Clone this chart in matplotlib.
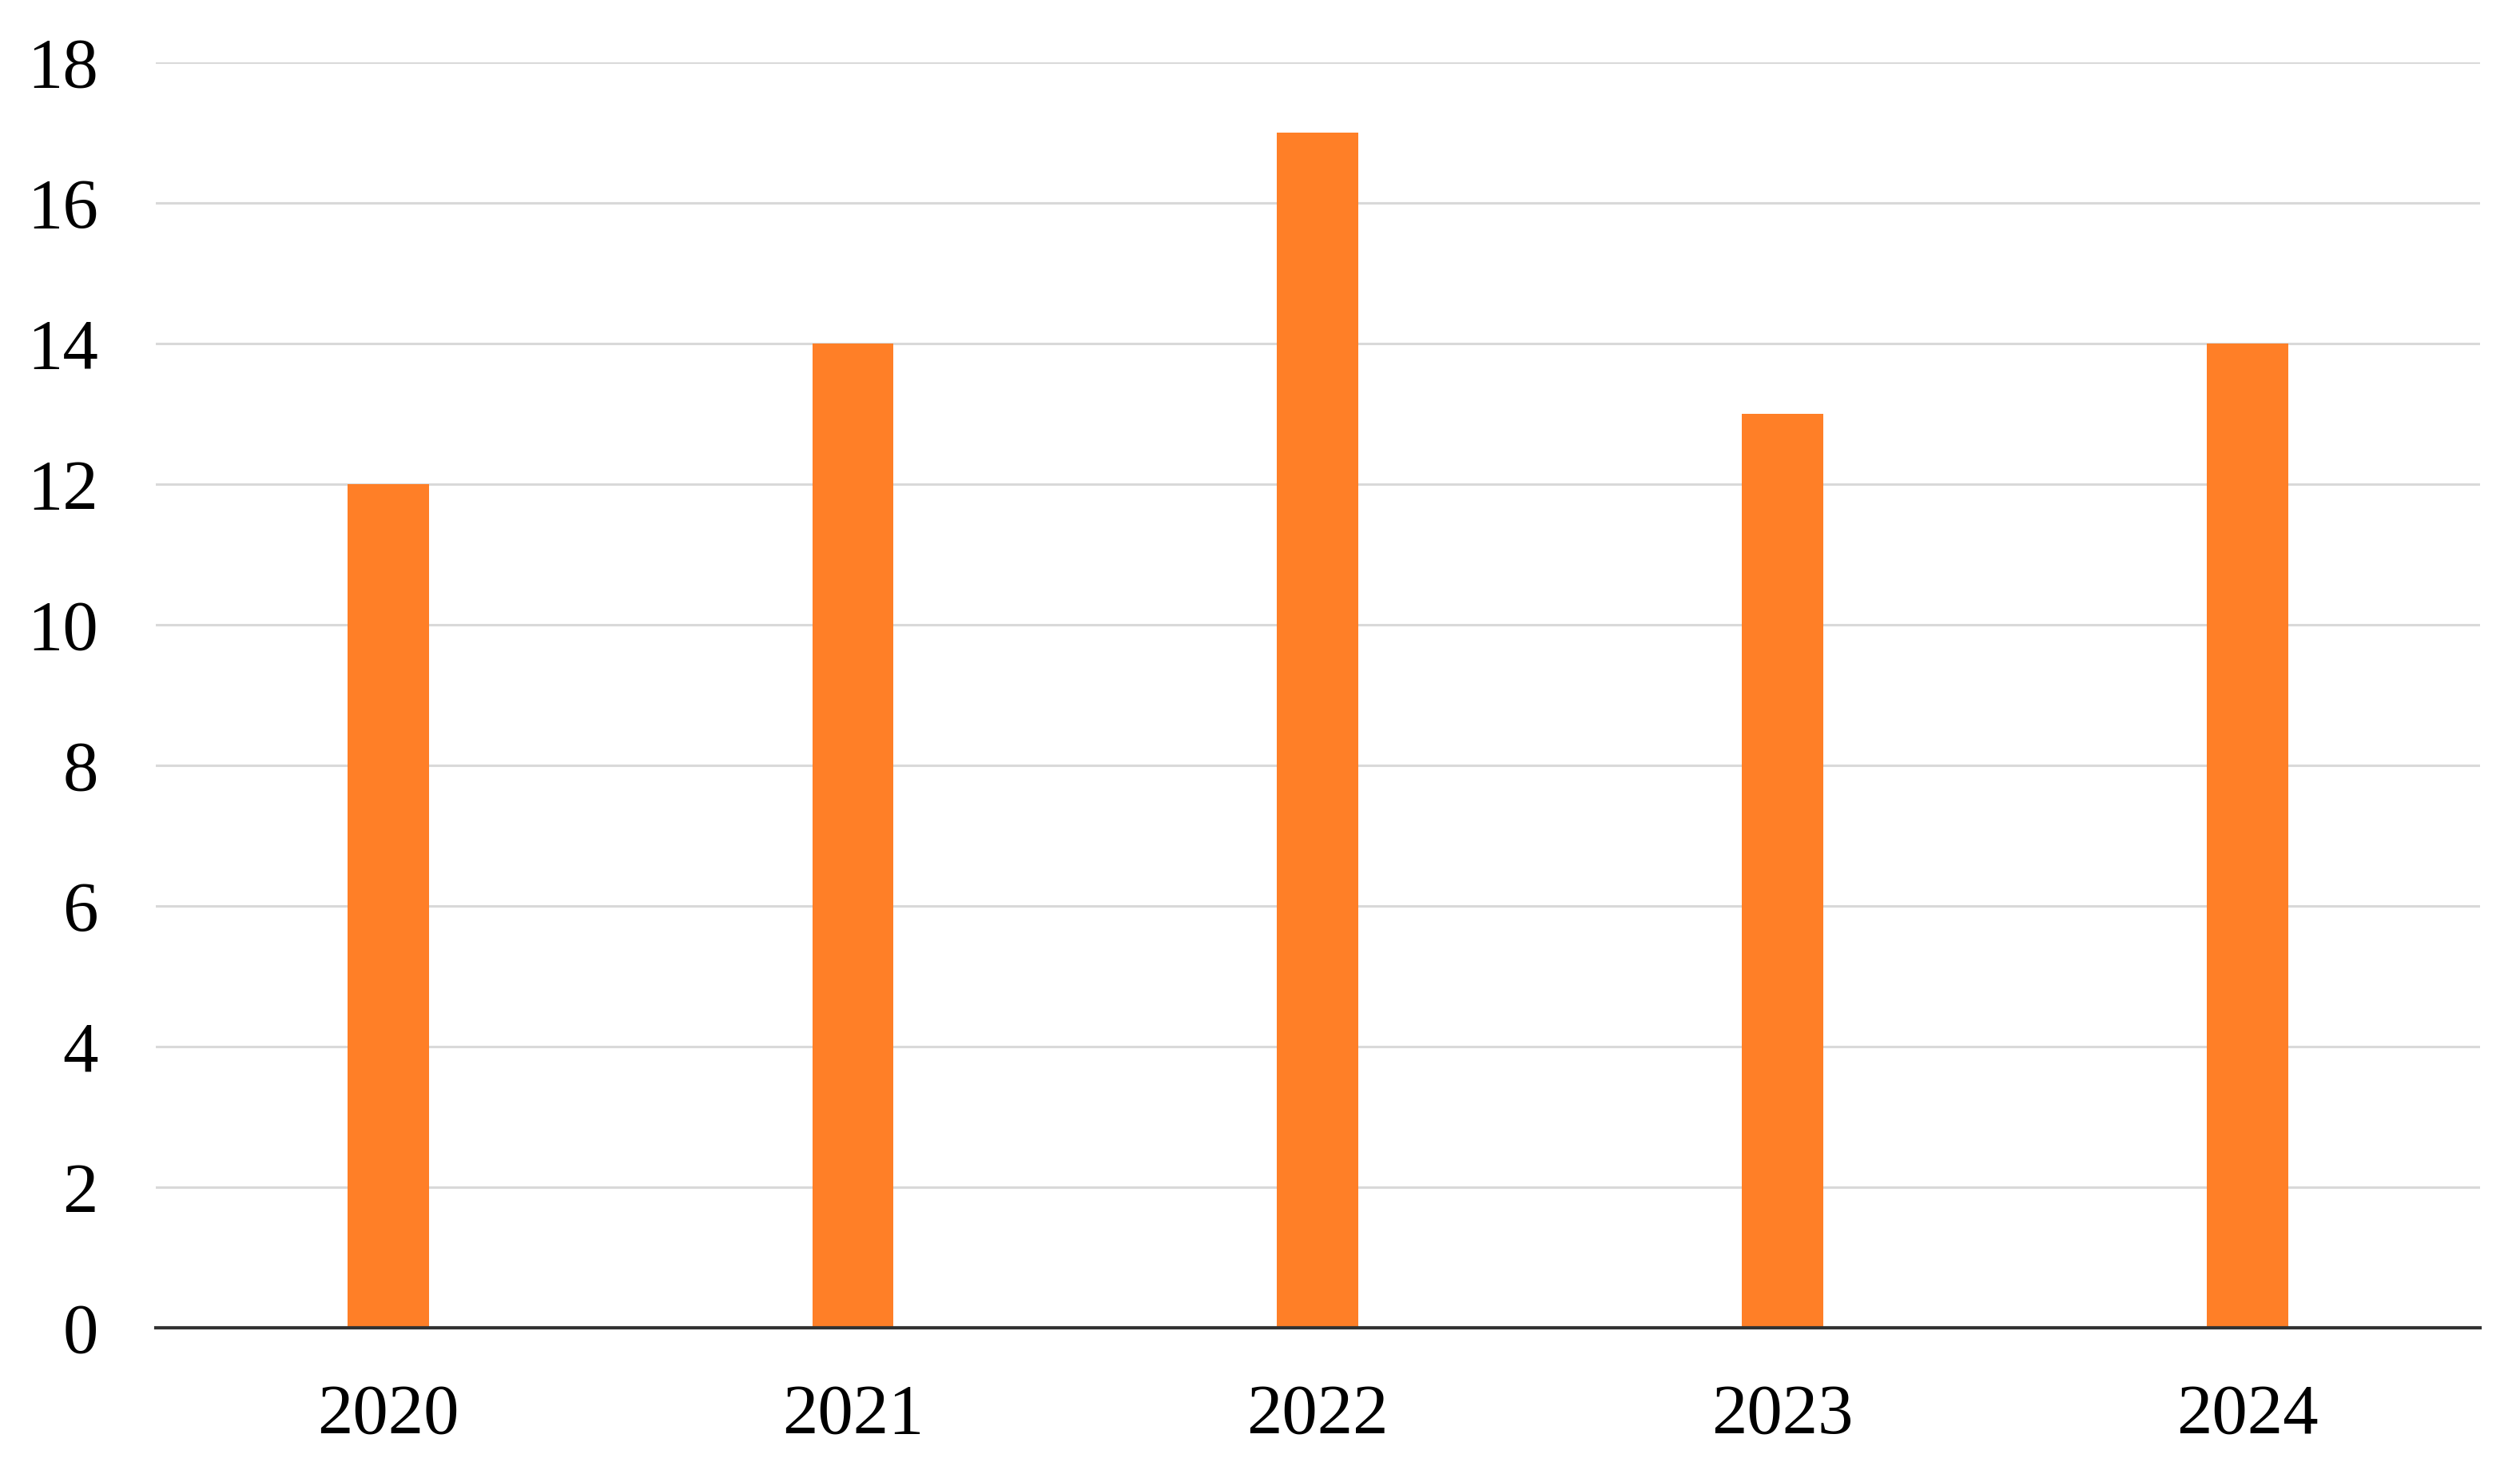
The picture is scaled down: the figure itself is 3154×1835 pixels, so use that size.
import matplotlib.pyplot as plt

# Data
years = ['2020', '2021', '2022', '2023', '2024']
counts = [12, 14, 17, 13, 14]
yticks = [0, 2, 4, 6, 8, 10, 12, 14, 16, 18]

plt.rcParams['font.family'] = ['Liberation Serif', 'DejaVu Serif']

fig = plt.figure(figsize=(31.54, 18.35), dpi=100)
ax = fig.add_axes([0.0618, 0.0943, 0.9222, 0.8632])

x = range(len(years))
ax.bar(x, counts, width=0.175, color='#FF7F27', zorder=3)

ax.set_xlim(-0.5, len(years) - 0.5)
ax.set_ylim(0, 18)
ax.set_xticks(list(x))
ax.set_xticklabels(years)
ax.set_yticks(yticks)

# Formatting
ax.grid(axis='y', color='#D9D9D9', linewidth=2.2, zorder=0)
for side in ['top', 'right', 'left']:
    ax.spines[side].set_visible(False)
ax.spines['bottom'].set_color('#333333')
ax.spines['bottom'].set_linewidth(3)
ax.spines['bottom'].set_zorder(4)
ax.tick_params(axis='both', length=0, labelsize=64, colors='black')
ax.tick_params(axis='x', pad=50)
ax.tick_params(axis='y', pad=52)

fig.savefig('out.png', dpi=100)
